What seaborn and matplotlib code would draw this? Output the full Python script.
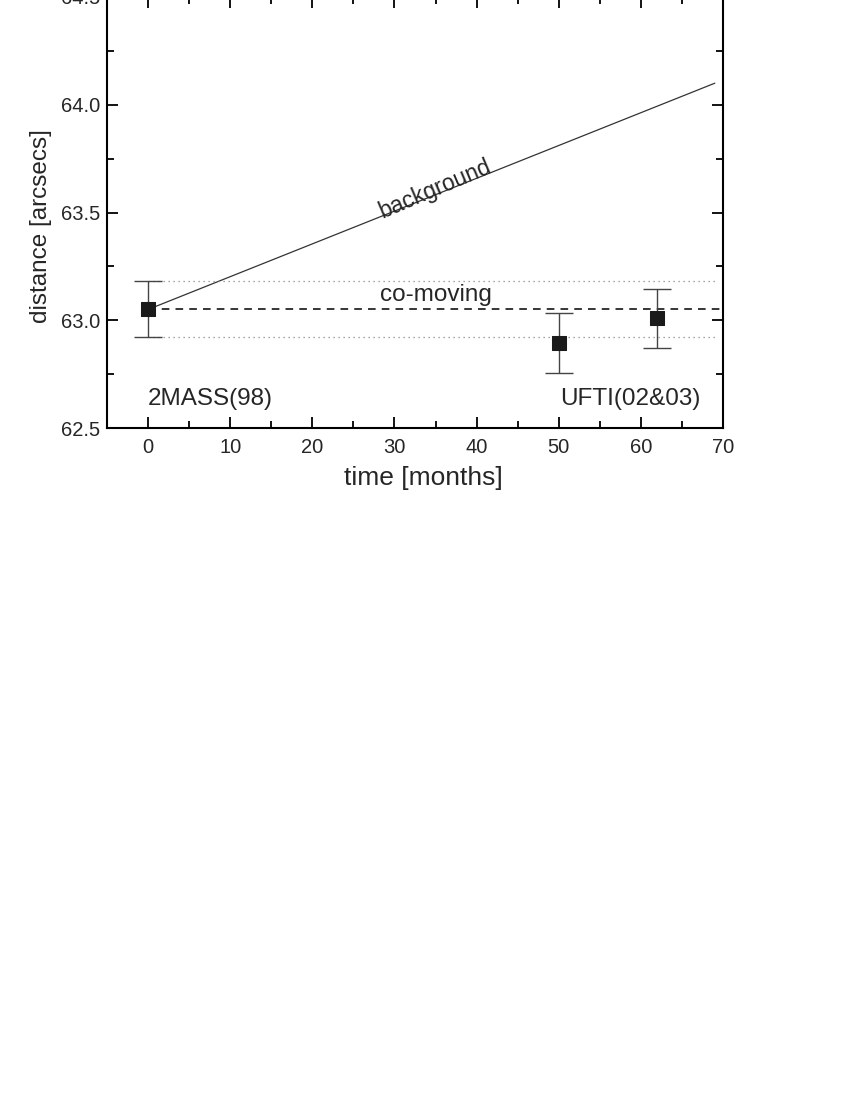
import numpy as np
import pandas as pd
import matplotlib
matplotlib.use('Agg')
import matplotlib.pyplot as plt
from matplotlib.ticker import MultipleLocator
import seaborn as sns

# measured epochs
months = [0, 50, 62]
distance = [63.05, 62.894, 63.01]
dist_err = [0.13, 0.138, 0.137]

# reference lines
comoving_level = 63.05
band_low = 62.92
band_high = 63.18
band_x = [0, 69]
background_x = [0, 69]
background_y = [63.05, 64.10]

sns.set_style('ticks')
plt.rcParams['font.family'] = ['Liberation Sans', 'DejaVu Sans']

fig = plt.figure(figsize=(8.5, 11), dpi=100)
ax = fig.add_axes([107 / 850, 1 - 428 / 1100, (723 - 107) / 850, (428 + 3) / 1100])

pts = pd.DataFrame({'time': months, 'distance': distance, 'err': dist_err})

# background track
sns.lineplot(x=background_x, y=background_y, ax=ax, color='#333333', lw=0.9)
# co-moving level and its uncertainty band
ax.axhline(comoving_level, xmin=(0 + 5) / 75, xmax=1, color='black', lw=1.1, ls=(0, (5, 4)))
for lvl in (band_low, band_high):
    sns.lineplot(x=band_x, y=[lvl, lvl], ax=ax, color='#888888', lw=0.9, ls=(0, (1, 3)))

ax.errorbar(pts['time'], pts['distance'], yerr=pts['err'], fmt='none',
            ecolor='#444444', elinewidth=1.0, capsize=10, capthick=1.0, zorder=3)
sns.scatterplot(data=pts, x='time', y='distance', ax=ax, marker='s', s=90,
                color='#1a1a1a', edgecolor='#1a1a1a', zorder=4)

ax.text(34.9, 63.61, 'background', rotation=23, ha='center', va='center', fontsize=16.5)
ax.text(35, 63.115, 'co-moving', ha='center', va='center', fontsize=17.5)
ax.text(0, 62.635, '2MASS(98)', ha='left', va='center', fontsize=17.5)
ax.text(67.2, 62.635, 'UFTI(02&03)', ha='right', va='center', fontsize=17.5)

ax.set_xlim(-5, 70)
ax.set_ylim(62.5, 64.5)
ax.xaxis.set_major_locator(MultipleLocator(10))
ax.xaxis.set_minor_locator(MultipleLocator(5))
ax.yaxis.set_major_locator(MultipleLocator(0.5))
ax.yaxis.set_minor_locator(MultipleLocator(0.25))
ax.yaxis.set_major_formatter(matplotlib.ticker.FormatStrFormatter('%.1f'))
ax.tick_params(which='both', direction='in', top=True, right=True, labelsize=14.5, width=1.3, color='black')
ax.tick_params(which='major', length=8, pad=5)
ax.tick_params(axis='x', which='major', pad=7)
ax.tick_params(which='minor', length=5)
for sp in ax.spines.values():
    sp.set_linewidth(1.5)
    sp.set_color('black')

ax.set_xlabel('time [months]', fontsize=19)
ax.set_ylabel('distance [arcsecs]', fontsize=17.5)
ax.xaxis.set_label_coords((423 - 107) / 616, -(466 - 428) / 431)
ax.yaxis.set_label_coords(-(107 - 52) / 616, (428 - 226) / 431)

fig.savefig('out.png', dpi=100)
